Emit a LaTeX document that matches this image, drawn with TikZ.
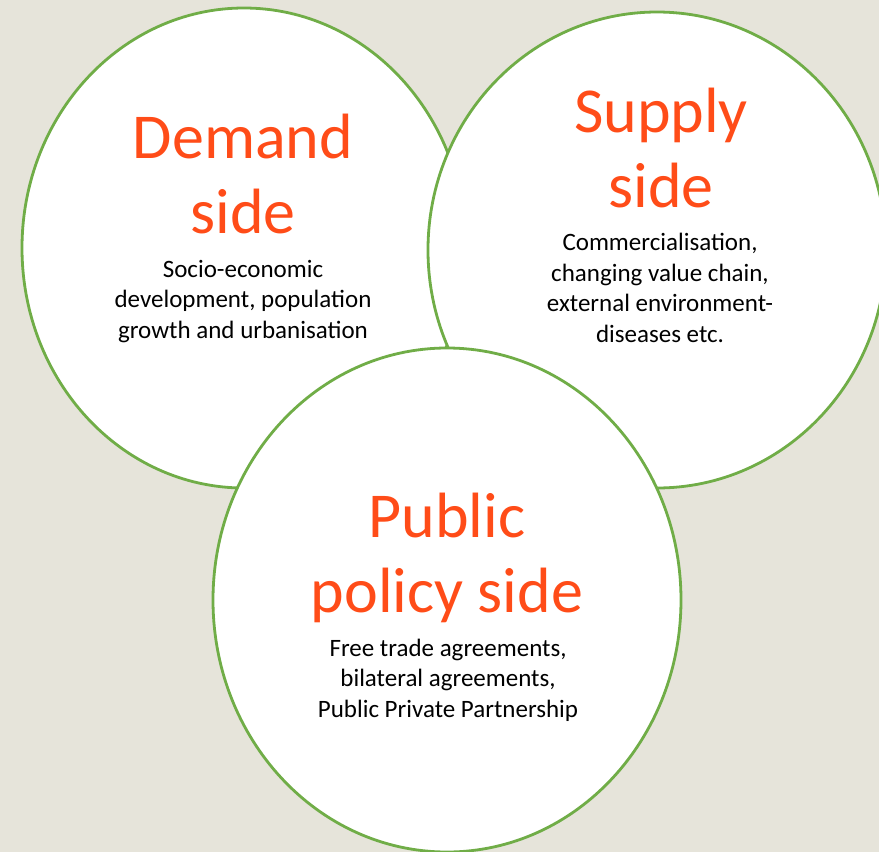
\documentclass[tikz,border=0pt]{standalone}
\usepackage{fontspec}
\setmainfont{Carlito}
\usetikzlibrary{shapes.geometric}
\definecolor{bgbeige}{RGB}{230,228,218}
\definecolor{ringgreen}{RGB}{112,173,71}
\definecolor{titleorange}{RGB}{255,76,24}
\tikzset{
  ring/.style={ellipse, draw=ringgreen, fill=white, line width=2.8pt, inner sep=0pt},
  % multi-line nodes: the base anchor sits on the last line's baseline
  headline/.style={text=titleorange, font=\fontsize{64}{75}\selectfont, align=center, anchor=base, inner sep=0pt},
  bodytext/.style={text=black, font=\fontsize{25}{30.5}\selectfont, align=center, anchor=base, inner sep=0pt}
}
\begin{document}
\begin{tikzpicture}[x=1pt, y=-1pt]
  % canvas
  \fill[bgbeige] (0,0) rectangle (879,852);
  \useasboundingbox (0,0) rectangle (879,852);

  % the three overlapping rings
  \node[ring, minimum width=444pt, minimum height=480pt] (demand) at (244,248) {};
  \node[ring, minimum width=458pt, minimum height=476pt] (supply) at (657,250) {};
  \node[ring, minimum width=468pt, minimum height=504pt] (policy) at (447,600) {};

  % demand side
  \node[headline] (demandtitle) at (243,233) {Demand\\side};
  \node[bodytext] (demandtext) at (243,338) {Socio-economic\\development, population\\growth and urbanisation};

  % supply side
  \node[headline] (supplytitle) at (661,207) {Supply\\side};
  \node[bodytext] (supplytext) at (660,342) {Commercialisation,\\changing value chain,\\external environment-\\diseases etc.};

  % public policy side
  \node[headline] (policytitle) at (447,612) {Public\\policy side};
  \node[bodytext] (policytext) at (448,717) {Free trade agreements,\\bilateral agreements,\\Public Private Partnership};
\end{tikzpicture}
\end{document}
